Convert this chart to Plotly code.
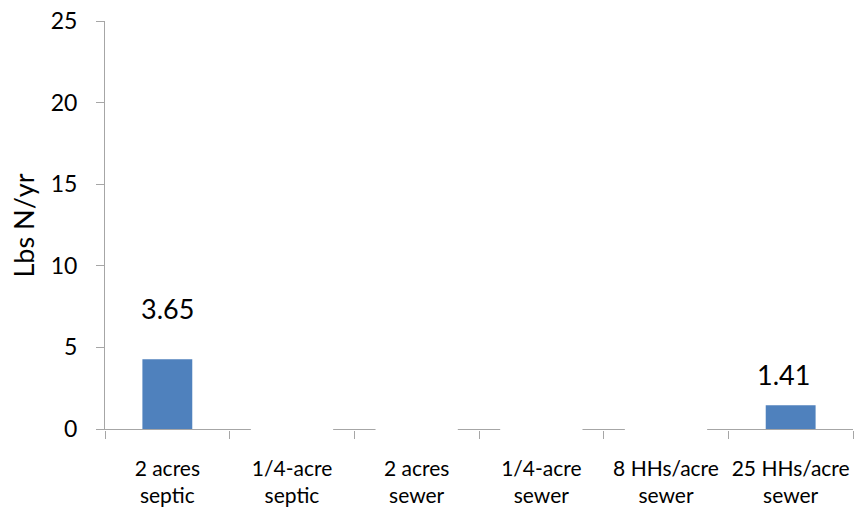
import plotly.graph_objects as go

categories = ["2 acres<br>septic", "1/4-acre<br>septic", "2 acres<br>sewer",
              "1/4-acre<br>sewer", "8 HHs/acre<br>sewer", "25 HHs/acre<br>sewer"]
values = [4.27, None, None, None, None, 1.46]
labels = ["3.65", "", "", "", "", "1.41"]
label_shift = [51, 0, 0, 0, 0, 31]
label_xshift = [0, 0, 0, 0, 0, -7]
hidden = [None, 0.6, 0.6, 0.6, 0.6, None]

font = "Lato, Carlito, Calibri, sans-serif"
axis_grey = "#A6A6A6"

fig = go.Figure()
fig.add_trace(go.Bar(x=categories, y=hidden, base=-0.3, width=0.66,
                     marker=dict(color="white", line=dict(width=0)),
                     hoverinfo="skip", showlegend=False))
fig.add_trace(go.Bar(x=categories, y=values, width=0.4,
                     marker=dict(color="#4F81BD", line=dict(width=0)),
                     showlegend=False))

for c, v, t, s, xs in zip(categories, values, labels, label_shift, label_xshift):
    if t:
        fig.add_annotation(x=c, y=v, text=t, showarrow=False, yanchor="middle",
                           yshift=s, xshift=xs,
                           font=dict(size=27, color="black", family=font))

fig.update_layout(
    width=854, height=509,
    margin=dict(l=105, r=1, t=21, b=79),
    plot_bgcolor="white", paper_bgcolor="white",
    barmode="overlay",
    font=dict(family=font, color="black"),
    xaxis=dict(showline=False, automargin=False, tickangle=0,
               ticks="outside", ticklen=8, tickcolor=axis_grey,
               tickson="boundaries", tickfont=dict(size=21),
               ticklabelstandoff=24, ticklabeloverflow="allow",
               layer="below traces", showgrid=False, zeroline=False),
    yaxis=dict(range=[-0.06, 25], tickvals=[0, 5, 10, 15, 20, 25], automargin=False,
               showline=True, linecolor=axis_grey, linewidth=1,
               ticks="outside", ticklen=8, tickcolor=axis_grey,
               ticklabelstandoff=14, ticklabeloverflow="allow",
               tickfont=dict(size=23), showgrid=False,
               zeroline=True, zerolinecolor=axis_grey, zerolinewidth=1,
               layer="below traces",
               title=dict(text="Lbs N/yr", font=dict(size=27), standoff=8)),
)

fig.write_html("out.html", config={"displayModeBar": False},
               post_script="document.body.style.margin='0';")
